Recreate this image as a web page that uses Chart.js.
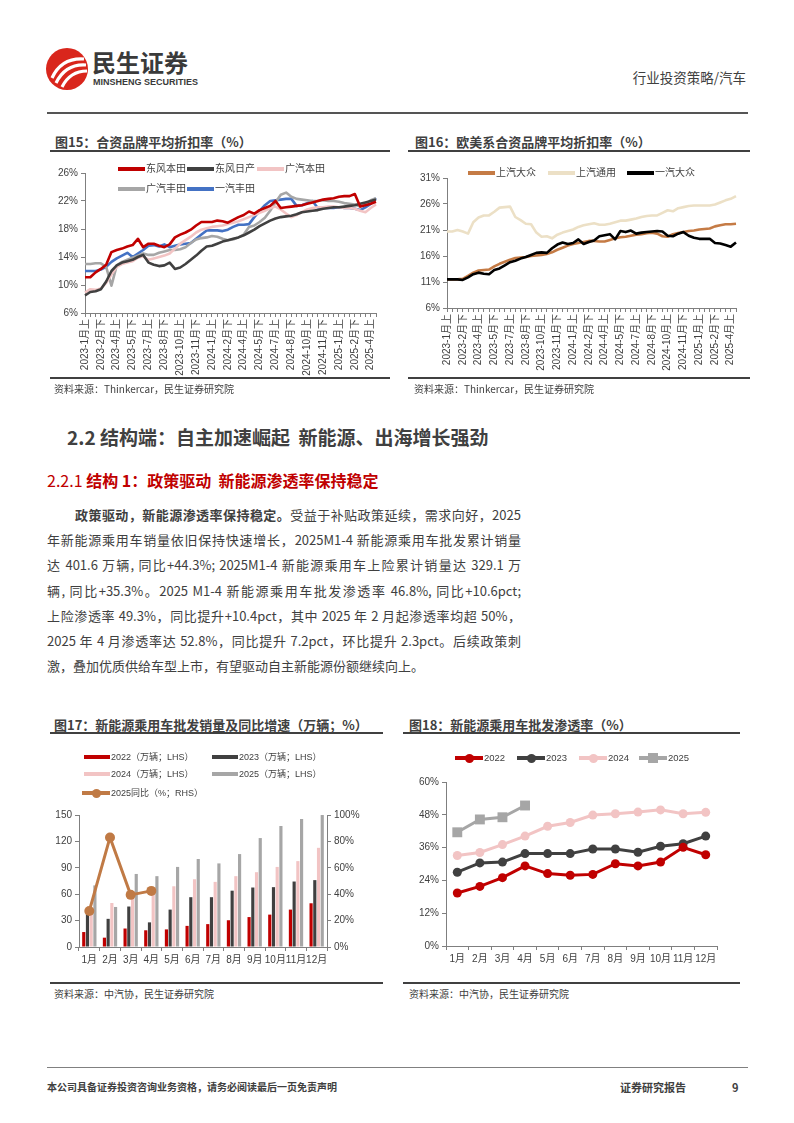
<!DOCTYPE html>
<html lang="zh-CN">
<head>
<meta charset="utf-8">
<title>行业投资策略/汽车</title>
<script src="https://cdn.jsdelivr.net/npm/chart.js@4.4.1/dist/chart.umd.min.js"></script>
<style>
  body { margin: 0; background: #fff; }
  #page { position: relative; width: 794px; height: 1123px; overflow: hidden; background: #fff;
          font-family: 'Noto Sans CJK SC', 'Liberation Sans', sans-serif; color: #404040; }
  .abs { position: absolute; white-space: nowrap; }
  .rule { position: absolute; height: 2px; background: #404040; }
  .fig-title { position: absolute; font-size: 13px; font-weight: bold; line-height: 16px; color: #404040; white-space: nowrap; }
  .src { position: absolute; font-size: 10px; line-height: 12px; color: #404040; white-space: nowrap; }
  canvas { position: absolute; }
  .lg { position: absolute; height: 14px; line-height: 14px; color: #404040; white-space: nowrap;
        font-family: 'Liberation Sans', 'Noto Sans CJK SC', sans-serif; }
  .lg span { position: absolute; }
  .para { position: absolute; left: 47px; top: 502px; width: 474px; font-size: 13px; line-height: 25.2px; color: #404040; }
  .para div { text-align: justify; text-align-last: justify; white-space: nowrap; }
  .para div.last { text-align-last: left; }
</style>
</head>
<body>
<div id="page">
  <!-- header -->
  <svg class="abs" style="left:45px;top:47px" width="44" height="44" viewBox="0 0 44 44">
    <circle cx="22" cy="22" r="21" fill="#d9261c"/>
    <path d="M7 31 C 13 18, 24 11, 39 12" stroke="#fff" stroke-width="3.2" fill="none"/>
    <path d="M11 36 C 17 24, 27 17, 41 18" stroke="#fff" stroke-width="3.2" fill="none"/>
    <path d="M17 40 C 22 30, 30 24, 42 24" stroke="#fff" stroke-width="3.2" fill="none"/>
  </svg>
  <div class="abs" style="left:92px;top:47px;font-size:24px;line-height:30px;font-weight:bold;color:#3a3a3a;">民生证券</div>
  <div class="abs" style="left:93px;top:77px;font-size:9px;line-height:11px;font-weight:bold;color:#3a3a3a;font-family:'Liberation Sans Narrow','Liberation Sans',sans-serif;">MINSHENG SECURITIES</div>
  <div class="abs" style="right:48px;top:69px;font-size:13.5px;line-height:16px;color:#404040;">行业投资策略/汽车</div>
  <div class="rule" style="left:47px;top:112px;width:701px;height:2px;background:#555;"></div>

  <!-- fig 15 / 16 -->
  <div class="fig-title" style="left:55px;top:134px;">图15：合资品牌平均折扣率（%）</div>
  <div class="rule" style="left:50px;top:150px;width:340px;"></div>
  <canvas id="c15" width="345" height="220" style="left:45px;top:160px;"></canvas>
  <div class="rule" style="left:50px;top:377px;width:340px;"></div>
  <div class="src" style="left:54px;top:383px;">资料来源：Thinkercar，民生证券研究院</div>

  <div class="fig-title" style="left:415px;top:134px;">图16：欧美系合资品牌平均折扣率（%）</div>
  <div class="rule" style="left:408px;top:150px;width:342px;"></div>
  <canvas id="c16" width="345" height="215" style="left:405px;top:165px;"></canvas>
  <div class="rule" style="left:408px;top:377px;width:342px;"></div>
  <div class="src" style="left:414px;top:383px;">资料来源：Thinkercar，民生证券研究院</div>

  <!-- text -->
  <div class="abs" style="left:67px;top:425px;font-size:19px;line-height:24px;font-weight:bold;color:#404040;">2.2 结构端：自主加速崛起&nbsp;&nbsp;新能源、出海增长强劲</div>
  <div class="abs" style="left:47px;top:470px;font-size:16px;line-height:20px;color:#c00000;"><span>2.2.1 </span><b>结构 1：政策驱动&nbsp;&nbsp;新能源渗透率保持稳定</b></div>
  <div class="para">
    <div style="padding-left:28px;"><b>政策驱动，新能源渗透率保持稳定。</b>受益于补贴政策延续，需求向好，2025</div>
    <div>年新能源乘用车销量依旧保持快速增长，2025M1-4 新能源乘用车批发累计销量</div>
    <div>达 401.6 万辆, 同比+44.3%; 2025M1-4 新能源乘用车上险累计销量达 329.1 万</div>
    <div>辆, 同比+35.3%。2025 M1-4 新能源乘用车批发渗透率 46.8%, 同比+10.6pct;</div>
    <div>上险渗透率 49.3%，同比提升+10.4pct，其中 2025 年 2 月起渗透率均超 50%，</div>
    <div>2025 年 4 月渗透率达 52.8%，同比提升 7.2pct，环比提升 2.3pct。后续政策刺</div>
    <div class="last">激，叠加优质供给车型上市，有望驱动自主新能源份额继续向上。</div>
  </div>

  <!-- fig 17 / 18 -->
  <div class="fig-title" style="left:54px;top:717px;">图17：新能源乘用车批发销量及同比增速（万辆；%）</div>
  <div class="rule" style="left:50px;top:732px;width:333px;"></div>
  <canvas id="c17" width="325" height="175" style="left:45px;top:800px;"></canvas>
  <div class="rule" style="left:50px;top:982px;width:333px;"></div>
  <div class="src" style="left:54px;top:988px;">资料来源：中汽协，民生证券研究院</div>

  <div class="fig-title" style="left:409px;top:717px;">图18：新能源乘用车批发渗透率（%）</div>
  <div class="rule" style="left:403px;top:732px;width:337px;"></div>
  <canvas id="c18" width="340" height="200" style="left:400px;top:770px;"></canvas>
  <div class="rule" style="left:403px;top:982px;width:337px;"></div>
  <div class="src" style="left:409px;top:988px;">资料来源：中汽协，民生证券研究院</div>

  <!-- footer -->
  <div class="rule" style="left:47px;top:1067px;width:701px;height:1px;background:#808080;"></div>
  <div class="abs" style="left:47px;top:1080px;font-size:10px;line-height:14px;font-weight:bold;color:#404040;">本公司具备证券投资咨询业务资格，请务必阅读最后一页免责声明</div>
  <div class="abs" style="left:620px;top:1080px;font-size:11px;line-height:14px;font-weight:bold;color:#404040;">证券研究报告</div>
  <div class="abs" style="left:732px;top:1080px;font-size:11px;line-height:14px;font-weight:bold;color:#404040;">9</div>
</div>

<script>
// half-month periods, fig 15 / 16
const periods = [
  '2023-1月上','2023-1月下','2023-2月上','2023-2月下','2023-3月上','2023-3月下','2023-4月上','2023-4月下',
  '2023-5月上','2023-5月下','2023-6月上','2023-6月下','2023-7月上','2023-7月下','2023-8月上','2023-8月下',
  '2023-9月上','2023-9月下','2023-10月上','2023-10月下','2023-11月上','2023-11月下','2023-12月上','2023-12月下',
  '2024-1月上','2024-1月下','2024-2月上','2024-2月下','2024-3月上','2024-3月下','2024-4月上','2024-4月下',
  '2024-5月上','2024-5月下','2024-6月上','2024-6月下','2024-7月上','2024-7月下','2024-8月上','2024-8月下',
  '2024-9月上','2024-9月下','2024-10月上','2024-10月下','2024-11月上','2024-11月下','2024-12月上','2024-12月下',
  '2025-1月上','2025-1月下','2025-2月上','2025-2月下','2025-3月上','2025-3月下','2025-4月上','2025-4月下'
];

// fig 15 (%)
const jvNames = ['东风本田', '东风日产', '广汽本田', '广汽丰田', '一汽丰田'];
const dongfengHonda = [11.1,11.1,11.8,12.3,12.9,14.7,15.0,15.2,15.5,15.7,16.6,15.4,15.9,15.9,15.6,15.4,15.8,16.8,17.2,17.5,
  17.9,18.5,19.0,19.0,19.0,19.2,19.1,18.9,19.3,19.7,20.0,20.5,20.2,20.7,21.0,21.3,22.0,21.0,21.1,21.2,
  21.3,21.4,21.6,21.8,22.0,22.2,22.3,22.4,22.6,22.7,22.7,23.0,21.2,21.4,21.6,21.9];
const dongfengNissan = [8.5,9.0,9.1,9.4,10.5,12.0,12.8,13.2,13.4,13.6,14.0,14.3,13.2,12.9,12.7,12.8,13.2,12.3,12.5,13.0,
  13.6,14.2,14.9,15.5,15.6,15.9,16.2,16.4,16.6,16.8,17.1,17.5,17.9,18.4,18.8,19.2,19.5,19.7,19.8,19.9,
  20.1,20.4,20.5,20.6,20.7,20.9,21.0,21.1,21.1,21.2,21.3,21.4,21.6,21.8,22.0,22.2];
const gacHonda = [8.9,9.4,9.3,9.5,10.3,11.5,12.6,13.0,13.2,13.4,13.9,14.1,13.6,13.8,14.0,14.2,14.5,15.2,15.9,16.4,
  16.9,17.5,17.9,18.1,18.3,18.4,18.5,18.7,18.9,19.1,19.4,19.7,20.0,20.3,20.6,21.0,21.2,20.8,20.2,19.7,
  20.0,20.4,20.8,21.0,21.1,21.1,21.2,21.2,21.1,21.0,21.0,20.9,20.6,20.4,21.0,21.5];
const gacToyota = [13.0,13.0,13.1,13.1,12.6,9.9,12.8,13.3,13.6,13.9,14.2,14.5,14.3,14.3,14.6,14.8,15.0,15.0,15.1,15.4,
  16.0,16.5,16.7,16.8,17.0,16.9,16.6,16.4,16.5,16.8,17.2,18.3,18.5,19.0,19.6,20.6,21.8,22.9,23.2,22.6,
  22.3,22.2,22.1,22.0,22.0,22.1,22.0,22.0,21.9,21.7,21.6,21.5,21.2,21.5,22.1,22.4];
const fawToyota = [12.0,12.0,12.0,12.2,12.6,13.3,13.8,14.2,14.6,14.0,14.5,15.0,15.6,15.7,15.5,15.8,15.4,15.6,15.8,15.9,
  16.0,16.6,17.2,17.8,17.8,17.8,17.7,17.9,18.3,18.6,18.6,18.7,19.7,20.6,21.4,22.0,22.1,22.2,22.3,22.3,
  21.3,21.4,21.7,22.0,21.0,21.0,21.0,21.0,21.1,21.0,21.0,20.9,20.7,21.1,21.6,22.4];

// fig 16 (%)
const euNames = ['上汽大众', '上汽通用', '一汽大众'];
const saicVW = [11.5,11.5,11.5,11.6,12.2,12.8,13.2,13.3,13.4,14.0,14.5,14.9,15.3,15.6,15.7,15.8,16.0,16.1,16.2,16.4,
  16.7,17.2,17.6,18.0,18.3,18.5,18.7,18.9,18.9,18.8,18.8,19.1,19.4,19.6,19.7,19.9,20.1,20.2,20.4,20.5,
  20.3,19.8,19.7,20.2,20.4,20.6,20.8,20.9,21.1,21.2,21.3,21.7,21.9,22.1,22.1,22.2];
const saicGM = [20.7,20.7,21.0,20.7,20.3,22.5,23.4,23.8,23.8,24.5,25.3,25.4,25.5,23.5,22.9,22.2,22.1,20.5,19.7,19.8,
  19.4,20.1,20.5,20.8,21.1,21.6,21.9,22.1,22.3,22.0,22.0,22.2,22.5,22.8,22.8,23.0,23.2,23.5,23.7,23.8,
  23.8,24.3,24.8,24.6,25.2,25.4,25.6,25.7,25.7,25.7,25.7,25.9,26.3,26.7,27.0,27.5];
const fawVW = [11.5,11.5,11.5,11.4,11.9,12.5,12.8,12.6,12.5,13.3,13.6,14.2,14.8,15.1,15.5,15.8,16.2,16.6,16.7,16.6,
  17.5,18.2,18.6,18.3,18.5,19.2,18.3,18.7,19.0,19.8,20.0,20.2,19.2,20.8,20.6,20.9,20.3,20.5,20.6,20.7,
  20.8,20.7,19.9,19.8,20.3,20.6,19.9,19.5,19.3,19.3,19.3,18.5,18.4,18.1,17.8,18.6];

// fig 17 / 18
const months = ['1月','2月','3月','4月','5月','6月','7月','8月','9月','10月','11月','12月'];
const salesNames = ['2022（万辆；LHS）', '2023（万辆；LHS）', '2024（万辆；LHS）', '2025（万辆；LHS）', '2025同比（%；RHS）'];
const sales2022 = [17, 10.6, 21, 19, 20, 24, 26, 30.4, 34, 36.8, 42.5, 49.7];
const sales2023 = [42, 32, 46, 28, 42.5, 56.6, 56.6, 64, 67.6, 68, 74.4, 76];
const sales2024 = [38, 50, 60, 60, 69, 77, 74, 80.5, 85, 91, 97.6, 112.7];
const sales2025 = [70, 45.5, 83, 80.5, 91, 100, 95, 105.6, 123.8, 137.5, 145.5, 150];
const yoy2025 = [27.3, 83, 39.5, 42.5];

const penNames = ['2022', '2023', '2024', '2025'];
const pen2022 = [19.4, 21.8, 25.0, 29.3, 26.5, 25.9, 26.2, 30.1, 29.3, 30.7, 36.1, 33.4];
const pen2023 = [27.0, 30.4, 30.7, 33.8, 33.8, 33.8, 35.5, 35.5, 34.3, 36.5, 37.4, 40.2];
const pen2024 = [33.1, 34.2, 37.1, 40.2, 43.8, 45.2, 47.9, 48.4, 49.0, 49.8, 48.4, 48.9];
const pen2025 = [41.6, 46.3, 47.1, 51.4];

Chart.defaults.font.family = "'Liberation Sans', 'Noto Sans CJK SC', sans-serif";
Chart.defaults.font.size = 10;
Chart.defaults.color = '#404040';

const AXIS = '#7f7f7f';
const grid = (extra) => Object.assign({ drawOnChartArea: false, drawTicks: true, tickLength: 4, color: AXIS }, extra || {});
const border = { display: true, color: AXIS, width: 1 };
const base = (padding) => ({
  responsive: false, animation: false, devicePixelRatio: 1,
  layout: { padding },
  plugins: { legend: { display: false }, tooltip: { enabled: false } }
});

function lineSet(label, data, color, width) {
  return { label, data, borderColor: color, backgroundColor: color, borderWidth: width || 2.6,
           pointRadius: 0, tension: 0, fill: false, borderJoinStyle: 'round' };
}

function periodAxis(h) {
  return {
    offset: false, grid: grid(), border,
    ticks: { autoSkip: false, minRotation: 90, maxRotation: 90, padding: 2,
             callback: function (v, i) { return i % 3 === 0 ? this.getLabelForValue(v) : ''; } },
    afterFit: s => { s.height = h; }
  };
}

function monthAxis(h) {
  return { offset: true, grid: grid({ offset: true }), border,
           ticks: { autoSkip: false, minRotation: 0, maxRotation: 0, padding: 3 },
           afterFit: s => { s.height = h; } };
}

function pctAxis(min, max, step, w) {
  return { min, max, grid: grid(), border,
           ticks: { stepSize: step, padding: 3, callback: v => v + '%' },
           afterFit: s => { s.width = w; } };
}

// fig 15
new Chart(document.getElementById('c15'), {
  type: 'line',
  data: { labels: periods, datasets: [
    lineSet(jvNames[0], dongfengHonda, '#c00000'),
    lineSet(jvNames[1], dongfengNissan, '#404040'),
    lineSet(jvNames[2], gacHonda, '#f2c4c4'),
    lineSet(jvNames[3], gacToyota, '#a6a6a6'),
    lineSet(jvNames[4], fawToyota, '#4472c4')
  ]},
  options: Object.assign(base({ top: 13, right: 13, left: 0, bottom: 0 }), {
    scales: { x: periodAxis(67), y: pctAxis(6, 26, 4, 40) }
  })
});

// fig 16
new Chart(document.getElementById('c16'), {
  type: 'line',
  data: { labels: periods, datasets: [
    lineSet(euNames[2], fawVW, '#000000'),
    lineSet(euNames[0], saicVW, '#c57b45'),
    lineSet(euNames[1], saicGM, '#ece0c6')
  ]},
  options: Object.assign(base({ top: 13, right: 12, left: 0, bottom: 0 }), {
    scales: { x: periodAxis(72), y: pctAxis(6, 31, 5, 42) }
  })
});

// fig 17
const bar = (label, data, color) => ({ type: 'bar', label, data, backgroundColor: color, yAxisID: 'y', order: 1,
  barPercentage: 0.85, categoryPercentage: 0.72 });
new Chart(document.getElementById('c17'), {
  type: 'bar',
  data: { labels: months, datasets: [
    { type: 'line', label: salesNames[4], data: yoy2025, yAxisID: 'y1', order: 0,
      borderColor: '#c07a45', backgroundColor: '#c07a45', borderWidth: 3, pointRadius: 5,
      pointBorderWidth: 0, tension: 0 },
    bar(salesNames[0], sales2022, '#c00000'),
    bar(salesNames[1], sales2023, '#404040'),
    bar(salesNames[2], sales2024, '#f2c4c4'),
    bar(salesNames[3], sales2025, '#a6a6a6')
  ]},
  options: Object.assign(base({ top: 15, right: 0, left: 0, bottom: 0 }), {
    scales: {
      x: monthAxis(28),
      y: { position: 'left', min: 0, max: 150, grid: grid(), border, ticks: { stepSize: 30, padding: 3 },
           afterFit: s => { s.width = 34; } },
      y1: Object.assign(pctAxis(0, 100, 20, 43), { position: 'right' })
    }
  })
});

// fig 18
const penSet = (label, data, color, style, r) => ({ label, data, borderColor: color, backgroundColor: color,
  borderWidth: 3, pointRadius: r, pointStyle: style, pointBorderWidth: 0, tension: 0 });
new Chart(document.getElementById('c18'), {
  type: 'line',
  data: { labels: months, datasets: [
    penSet(penNames[0], pen2022, '#c00000', 'circle', 4.5),
    penSet(penNames[1], pen2023, '#404040', 'circle', 4.5),
    penSet(penNames[2], pen2024, '#f2c4c4', 'circle', 4.5),
    penSet(penNames[3], pen2025, '#a6a6a6', 'rect', 7)
  ]},
  options: Object.assign(base({ top: 12, right: 23, left: 0, bottom: 0 }), {
    scales: {
      x: monthAxis(24),
      y: pctAxis(0, 60, 12, 46)
    }
  })
});

// html legends
function legend(items, size) {
  const page = document.getElementById('page');
  items.forEach(it => {
    const box = document.createElement('div');
    box.className = 'lg';
    box.style.left = it.x + 'px';
    box.style.top = (it.y - 7) + 'px';
    box.style.fontSize = size + 'px';
    const w = it.w || 27;
    const t = it.kind === 'rect' ? 4.5 : 3.5;
    const sw = document.createElement('span');
    sw.style.cssText = `left:0;top:${7 - t / 2}px;width:${w}px;height:${t}px;background:${it.color};`;
    box.appendChild(sw);
    if (it.kind === 'dot' || it.kind === 'square') {
      const m = document.createElement('span');
      const d = it.kind === 'dot' ? 9 : 10;
      m.style.cssText = `left:${w / 2 - d / 2}px;top:${7 - d / 2}px;width:${d}px;height:${d}px;background:${it.color};` +
        (it.kind === 'dot' ? 'border-radius:50%;' : '');
      box.appendChild(m);
    }
    const tx = document.createElement('span');
    tx.style.cssText = `left:${w + 1}px;top:0;`;
    tx.textContent = it.label;
    box.appendChild(tx);
    page.appendChild(box);
  });
}

legend([
  { x: 118, y: 169, label: jvNames[0], color: '#c00000' },
  { x: 187, y: 169, label: jvNames[1], color: '#404040' },
  { x: 257, y: 169, label: jvNames[2], color: '#f2c4c4' },
  { x: 118, y: 189, label: jvNames[3], color: '#a6a6a6' },
  { x: 187, y: 189, label: jvNames[4], color: '#4472c4' }
], 10);
legend([
  { x: 468, y: 173, label: euNames[0], color: '#c57b45' },
  { x: 548, y: 173, label: euNames[1], color: '#ece0c6' },
  { x: 627, y: 173, label: euNames[2], color: '#000000' }
], 10);
legend([
  { x: 84, y: 757, label: salesNames[0], color: '#c00000', kind: 'rect', w: 26 },
  { x: 212, y: 757, label: salesNames[1], color: '#404040', kind: 'rect', w: 26 },
  { x: 84, y: 774, label: salesNames[2], color: '#f2c4c4', kind: 'rect', w: 26 },
  { x: 212, y: 774, label: salesNames[3], color: '#a6a6a6', kind: 'rect', w: 26 },
  { x: 82, y: 793, label: salesNames[4], color: '#c07a45', kind: 'dot', w: 28 }
], 9);
legend([
  { x: 455, y: 758, label: penNames[0], color: '#c00000', kind: 'dot', w: 28 },
  { x: 517, y: 758, label: penNames[1], color: '#404040', kind: 'dot', w: 28 },
  { x: 579, y: 758, label: penNames[2], color: '#f2c4c4', kind: 'dot', w: 28 },
  { x: 639, y: 758, label: penNames[3], color: '#a6a6a6', kind: 'square', w: 28 }
], 9.5);
</script>
</body>
</html>
